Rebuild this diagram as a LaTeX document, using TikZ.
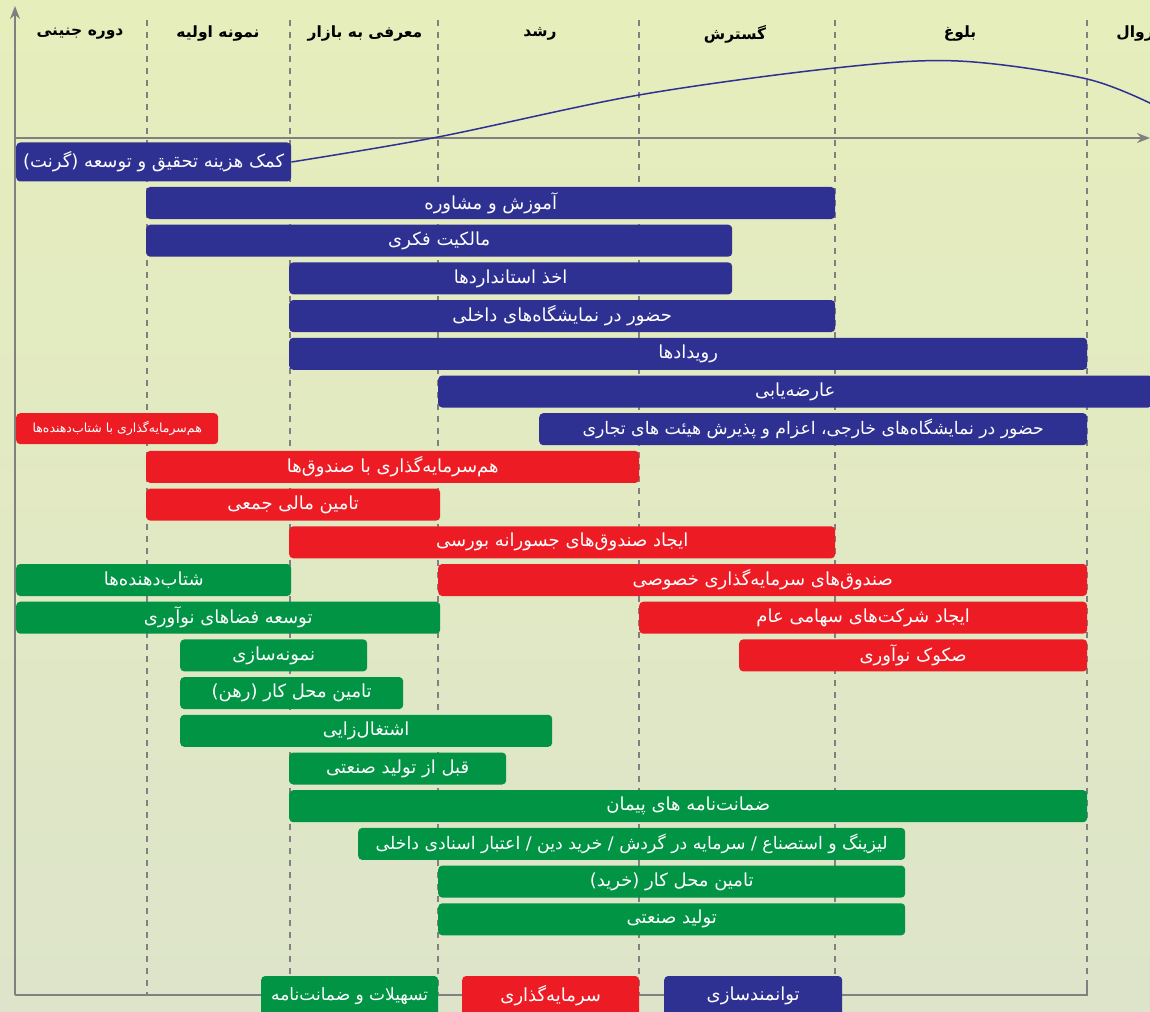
\documentclass[tikz,border=0pt]{standalone}
\usepackage{fontspec}
\newfontfamily\persianfont[Script=Arabic]{DejaVu Sans}
\TeXXeTstate=1
\usepackage{xcolor}
\definecolor{bar-blue}{RGB}{46,49,146}
\definecolor{bar-red}{RGB}{237,28,36}
\definecolor{bar-green}{RGB}{0,148,68}
\definecolor{axis-gray}{RGB}{128,128,128}
\definecolor{bg-top}{RGB}{230,238,188}
\definecolor{bg-bottom}{RGB}{221,228,202}
\usepackage{tikz}
\usetikzlibrary{arrows.meta}
\newcommand{\fatext}[1]{\beginR#1\endR}

\begin{document}
\begin{tikzpicture}[
    x=1pt, y=-1pt,
    every node/.style={inner sep=0pt},
    bar/.style={minimum height=32pt, rounded corners=4pt, anchor=west,
        text=white, font=\persianfont\fontsize{18}{20}\selectfont},
    enable/.style={bar, fill=bar-blue},
    invest/.style={bar, fill=bar-red},
    facility/.style={bar, fill=bar-green},
    longlabel/.style={font=\persianfont\fontsize{17.3}{20}\selectfont},
    phase/.style={font=\persianfont\bfseries\fontsize{15.5}{18}\selectfont},
    divider/.style={axis-gray, line width=1.2pt, dash pattern=on 6pt off 6pt}
]

% Background
\useasboundingbox (0,0) rectangle (1150,1011);
\shade[top color=bg-top, bottom color=bg-bottom] (0,0) rectangle (1150,1011);

% Phase dividers
\foreach \x in {147,290,438,639,835,1087}
    \draw[divider] (\x,20) -- (\x,995);

% Axes and frame
\draw[axis-gray, line width=1.5pt, -{Stealth[length=13pt, width=10pt]}] (15,995) -- (15,6);
\draw[axis-gray, line width=1.5pt, -{Stealth[length=13pt, width=10pt]}] (15,138) -- (1150,138);
\draw[axis-gray, line width=1.5pt] (15,995) -- (1087,995) -- (1087,985);

% Phase names
\node[phase] (embryo) at (80,34) {\fatext{دوره جنینی}};
\node[phase] (prototype) at (218,34) {\fatext{نمونه اولیه}};
\node[phase] (launch) at (365,34) {\fatext{معرفی به بازار}};
\node[phase] (growth) at (540,34) {\fatext{رشد}};
\node[phase] (expansion) at (735,34) {\fatext{گسترش}};
\node[phase] (maturity) at (960,34) {\fatext{بلوغ}};
\node[phase] (decline) at (1135,34) {\fatext{زوال}};

% Grant box and life-cycle curve
\node[enable, minimum width=275pt, minimum height=39pt] (grant) at (16,162)
    {\fatext{کمک هزینه تحقیق و توسعه (گرنت)}};
\draw[bar-blue, line width=1.5pt] plot[smooth, tension=0.55] coordinates
    {(grant.east) (438,137) (639,95) (835,68) (958,61) (1087,79) (1160,108)};

% Enablement (blue)
\node[enable, minimum width=689pt] (training) at (146,203.0) {\fatext{آموزش و مشاوره}};
\node[enable, minimum width=586pt] (ip) at (146,240.7) {\fatext{مالکیت فکری}};
\node[enable, minimum width=443pt] (standards) at (289,278.4) {\fatext{اخذ استانداردها}};
\node[enable, minimum width=546pt] (domestic) at (289,316.1) {\fatext{حضور در نمایشگاه^^^^200cهای داخلی}};
\node[enable, minimum width=798pt] (events) at (289,353.8) {\fatext{رویدادها}};
\node[enable, minimum width=714pt] (assess) at (438,391.5) {\fatext{عارضه^^^^200cیابی}};
\node[enable, longlabel, minimum width=548pt] (foreign) at (539,429.2)
    {\fatext{حضور در نمایشگاه^^^^200cهای خارجی، اعزام و پذیرش هیئت های تجاری}};

% Investment (red)
\node[invest, minimum width=202pt, minimum height=31pt, font=\persianfont\fontsize{12.5}{14}\selectfont]
    (coaccel) at (16,428.7) {\fatext{هم^^^^200cسرمایه^^^^200cگذاری با شتاب^^^^200cدهنده^^^^200cها}};
\node[invest, minimum width=493pt] (cofunds) at (146,466.9) {\fatext{هم^^^^200cسرمایه^^^^200cگذاری با صندوق^^^^200cها}};
\node[invest, minimum width=294pt] (crowd) at (146,504.6) {\fatext{تامین مالی جمعی}};
\node[invest, minimum width=546pt] (vcfunds) at (289,542.3) {\fatext{ایجاد صندوق^^^^200cهای جسورانه بورسی}};
\node[invest, minimum width=649pt] (pefunds) at (438,580.0) {\fatext{صندوق^^^^200cهای سرمایه^^^^200cگذاری خصوصی}};
\node[invest, minimum width=448pt] (public) at (639,617.7) {\fatext{ایجاد شرکت^^^^200cهای سهامی عام}};
\node[invest, minimum width=348pt] (sukuk) at (739,655.4) {\fatext{صکوک نوآوری}};

% Facilities and guarantees (green)
\node[facility, minimum width=275pt] (accel) at (16,580.0) {\fatext{شتاب^^^^200cدهنده^^^^200cها}};
\node[facility, minimum width=424pt] (spaces) at (16,617.7) {\fatext{توسعه فضاهای نوآوری}};
\node[facility, minimum width=187pt] (proto) at (180,655.4) {\fatext{نمونه^^^^200cسازی}};
\node[facility, minimum width=223pt] (mortgage) at (180,693.1) {\fatext{تامین محل کار (رهن)}};
\node[facility, minimum width=372pt] (jobs) at (180,730.8) {\fatext{اشتغال^^^^200cزایی}};
\node[facility, minimum width=217pt] (preprod) at (289,768.5) {\fatext{قبل از تولید صنعتی}};
\node[facility, minimum width=798pt] (bonds) at (289,806.2) {\fatext{ضمانت^^^^200cنامه های پیمان}};
\node[facility, longlabel, minimum width=547pt] (leasing) at (358,843.9)
    {\fatext{لیزینگ و استصناع / سرمایه در گردش / خرید دین / اعتبار اسنادی داخلی}};
\node[facility, minimum width=467pt] (purchase) at (438,881.6) {\fatext{تامین محل کار (خرید)}};
\node[facility, minimum width=467pt] (production) at (438,919.3) {\fatext{تولید صنعتی}};

% Legend
\node[facility, minimum width=177pt, minimum height=40pt, font=\persianfont\fontsize{17}{20}\selectfont]
    (keyfacility) at (261,996) {\fatext{تسهیلات و ضمانت^^^^200cنامه}};
\node[invest, minimum width=177pt, minimum height=40pt] (keyinvest) at (462,996) {\fatext{سرمایه^^^^200cگذاری}};
\node[enable, minimum width=178pt, minimum height=40pt] (keyenable) at (664,996) {\fatext{توانمندسازی}};

\end{tikzpicture}
\end{document}
